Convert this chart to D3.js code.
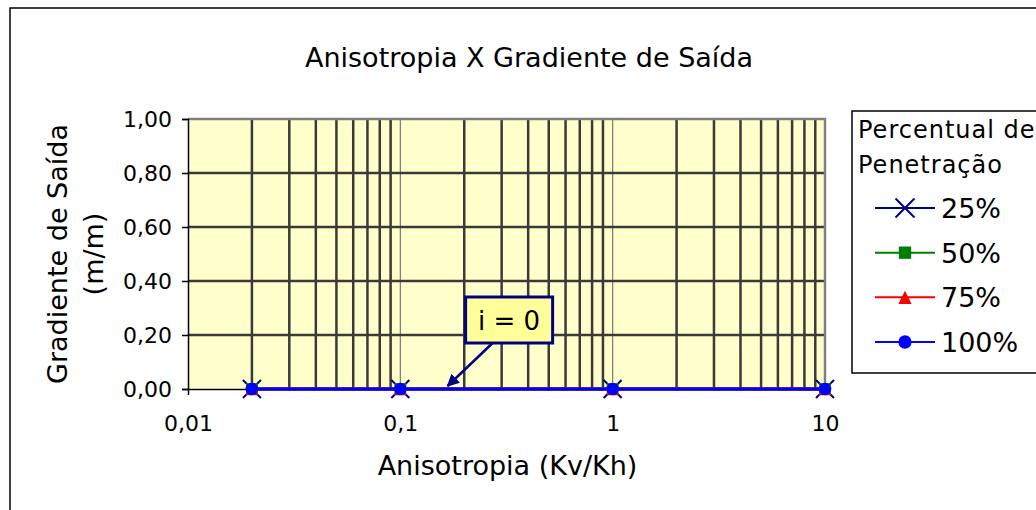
<!DOCTYPE html>
<html>
<head>
<meta charset="utf-8">
<script src="https://cdn.jsdelivr.net/npm/d3@7"></script>
<style>
  body { margin: 0; background: #fff; }
  svg { display: block; font-family: "DejaVu Sans", Verdana, sans-serif; }
</style>
</head>
<body>
<script>
// data
var anisotropia = [0.02, 0.1, 1, 10];
var serieNames = ["25%", "50%", "75%", "100%"];
var serie25 = [0, 0, 0, 0];
var serie50 = [0, 0, 0, 0];
var serie75 = [0, 0, 0, 0];
var serie100 = [0, 0, 0, 0];
var xTicks = [0.01, 0.1, 1, 10];
var yTicks = [0, 0.2, 0.4, 0.6, 0.8, 1.0];
var noteText = "i = 0";
var notePoint = [0.167, 0];

var series = [
  {name: serieNames[0], values: serie25, color: "#000080", symbol: "x"},
  {name: serieNames[1], values: serie50, color: "#008000", symbol: "square"},
  {name: serieNames[2], values: serie75, color: "#ff0000", symbol: "triangle"},
  {name: serieNames[3], values: serie100, color: "#0000ff", symbol: "circle"}
];

var width = 1036, height = 510;
var plot = {left: 188, right: 825, top: 119, bottom: 389};

var svg = d3.select("body").append("svg")
  .attr("width", width)
  .attr("height", height);

// outer chart frame (runs off the right and bottom edges)
svg.append("rect")
  .attr("x", 10).attr("y", 8)
  .attr("width", 1100).attr("height", 600)
  .attr("fill", "#fff").attr("stroke", "#000").attr("stroke-width", 1.5);

var x = d3.scaleLog().domain([0.01, 10]).range([plot.left, plot.right]);
var y = d3.scaleLinear().domain([0, 1]).range([plot.bottom, plot.top]);

// plot area
svg.append("rect")
  .attr("x", plot.left).attr("y", plot.top)
  .attr("width", plot.right - plot.left).attr("height", plot.bottom - plot.top)
  .attr("fill", "#ffffcc");

// vertical gridlines: minor (2..9) thick and dark, major thin and grey
var minor = [];
[0.01, 0.1, 1].forEach(function(d) {
  for (var k = 2; k <= 9; k++) minor.push(d * k);
});
svg.append("g").selectAll("line").data(minor).join("line")
  .attr("x1", d => x(d)).attr("x2", d => x(d))
  .attr("y1", plot.top).attr("y2", plot.bottom)
  .attr("stroke", "#3a3a3a").attr("stroke-width", 2.5);
svg.append("g").selectAll("line").data([0.1, 1]).join("line")
  .attr("x1", d => x(d)).attr("x2", d => x(d))
  .attr("y1", plot.top).attr("y2", plot.bottom)
  .attr("stroke", "#777").attr("stroke-width", 1.2);

// horizontal gridlines
svg.append("g").selectAll("line").data(yTicks.slice(1, -1)).join("line")
  .attr("x1", plot.left).attr("x2", plot.right)
  .attr("y1", d => y(d)).attr("y2", d => y(d))
  .attr("stroke", "#3a3a3a").attr("stroke-width", 2.5);

// plot border top/right
svg.append("path")
  .attr("d", "M" + plot.left + "," + plot.top + "H" + plot.right + "V" + plot.bottom)
  .attr("fill", "none").attr("stroke", "#808080").attr("stroke-width", 2.5);

var comma = d => d3.format(".2f")(d).replace(".", ",");

// axes
var yAxis = svg.append("g")
  .attr("transform", "translate(" + plot.left + ",0)")
  .call(d3.axisLeft(y).tickValues(yTicks).tickFormat(comma).tickSize(6).tickPadding(10));
var xAxis = svg.append("g")
  .attr("transform", "translate(0," + plot.bottom + ")")
  .call(d3.axisBottom(x).tickValues(xTicks)
    .tickFormat(d => String(d).replace(".", ","))
    .tickSize(6).tickSizeOuter(0).tickPadding(20));
[xAxis, yAxis].forEach(function(a) {
  a.selectAll("text").attr("font-size", 22).attr("fill", "#000")
    .attr("font-family", "DejaVu Sans, Verdana, sans-serif");
  a.selectAll("line").attr("stroke", "#000").attr("stroke-width", 1.5);
  a.select(".domain").attr("stroke", "#000").attr("stroke-width", 1.5);
});

// series lines
var line = d3.line().x((d, i) => x(anisotropia[i])).y(d => y(d));
series.forEach(function(s) {
  svg.append("path").datum(s.values)
    .attr("d", line)
    .attr("fill", "none")
    .attr("stroke", s.color)
    .attr("stroke-width", 3);
});

function drawMarker(g, s, cx, cy, size) {
  if (s.symbol === "x") {
    g.append("path")
      .attr("d", "M" + (cx - size) + "," + (cy - size) + "L" + (cx + size) + "," + (cy + size) +
                 "M" + (cx - size) + "," + (cy + size) + "L" + (cx + size) + "," + (cy - size))
      .attr("stroke", s.color).attr("stroke-width", 2).attr("fill", "none");
  } else if (s.symbol === "square") {
    g.append("rect")
      .attr("x", cx - size * 0.65).attr("y", cy - size * 0.65)
      .attr("width", size * 1.3).attr("height", size * 1.3)
      .attr("fill", s.color);
  } else if (s.symbol === "triangle") {
    g.append("path")
      .attr("d", "M" + cx + "," + (cy - size * 0.7) + "L" + (cx + size * 0.7) + "," + (cy + size * 0.7) +
                 "L" + (cx - size * 0.7) + "," + (cy + size * 0.7) + "Z")
      .attr("fill", s.color);
  } else {
    g.append("circle").attr("cx", cx).attr("cy", cy).attr("r", size * 0.7).attr("fill", s.color);
  }
}

// markers
series.forEach(function(s) {
  var g = svg.append("g");
  s.values.forEach(function(v, i) {
    drawMarker(g, s, x(anisotropia[i]), y(v), 9);
  });
});

// annotation "i = 0"
svg.append("defs").append("marker")
  .attr("id", "arrow").attr("viewBox", "0 0 10 10")
  .attr("refX", 9).attr("refY", 5)
  .attr("markerWidth", 5).attr("markerHeight", 5)
  .attr("markerUnits", "strokeWidth")
  .attr("orient", "auto")
  .append("path").attr("d", "M0,0L10,5L0,10Z").attr("fill", "#000080");

var tipX = x(notePoint[0]), tipY = y(notePoint[1]) - 3;
var boxX = tipX + 18, boxY = tipY - 89;
svg.append("line")
  .attr("x1", tipX + 45).attr("y1", boxY + 46)
  .attr("x2", tipX).attr("y2", tipY)
  .attr("stroke", "#000080").attr("stroke-width", 2.5)
  .attr("marker-end", "url(#arrow)");
svg.append("rect")
  .attr("x", boxX).attr("y", boxY)
  .attr("width", 87).attr("height", 46)
  .attr("fill", "#ffff99").attr("stroke", "#000080").attr("stroke-width", 3);
svg.append("text")
  .attr("x", boxX + 43.5).attr("y", boxY + 33)
  .attr("text-anchor", "middle").attr("font-size", 26)
  .text(noteText);

// titles
svg.append("text")
  .attr("x", 529).attr("y", 67)
  .attr("text-anchor", "middle").attr("font-size", 27)
  .text("Anisotropia X Gradiente de Saída");
svg.append("text")
  .attr("x", (plot.left + plot.right) / 2 + 1).attr("y", 475)
  .attr("text-anchor", "middle").attr("font-size", 27)
  .text("Anisotropia (Kv/Kh)");
var yt = svg.append("text")
  .attr("transform", "translate(67," + ((plot.top + plot.bottom) / 2) + ") rotate(-90)")
  .attr("text-anchor", "middle").attr("font-size", 27);
yt.append("tspan").attr("x", 0).attr("dy", 0).text("Gradiente de Saída");
yt.append("tspan").attr("x", 0).attr("dy", 36).text("(m/m)");

// legend
var legend = svg.append("g");
legend.append("rect")
  .attr("x", 852).attr("y", 111)
  .attr("width", 300).attr("height", 262)
  .attr("fill", "#fff").attr("stroke", "#000").attr("stroke-width", 1.5);
legend.append("text").attr("x", 858).attr("y", 138).attr("font-size", 24)
  .attr("letter-spacing", 1).text("Percentual de");
legend.append("text").attr("x", 858).attr("y", 173).attr("font-size", 24)
  .attr("letter-spacing", 1).text("Penetração");
var legendY = d3.scalePoint().domain(serieNames).range([208, 342]);
series.forEach(function(s) {
  var ly = legendY(s.name);
  legend.append("line")
    .attr("x1", 875).attr("x2", 935).attr("y1", ly).attr("y2", ly)
    .attr("stroke", s.color).attr("stroke-width", 2);
  drawMarker(legend, s, 905, ly, 9.5);
  legend.append("text").attr("x", 941).attr("y", ly + 10).attr("font-size", 27).text(s.name);
});
</script>
</body>
</html>
